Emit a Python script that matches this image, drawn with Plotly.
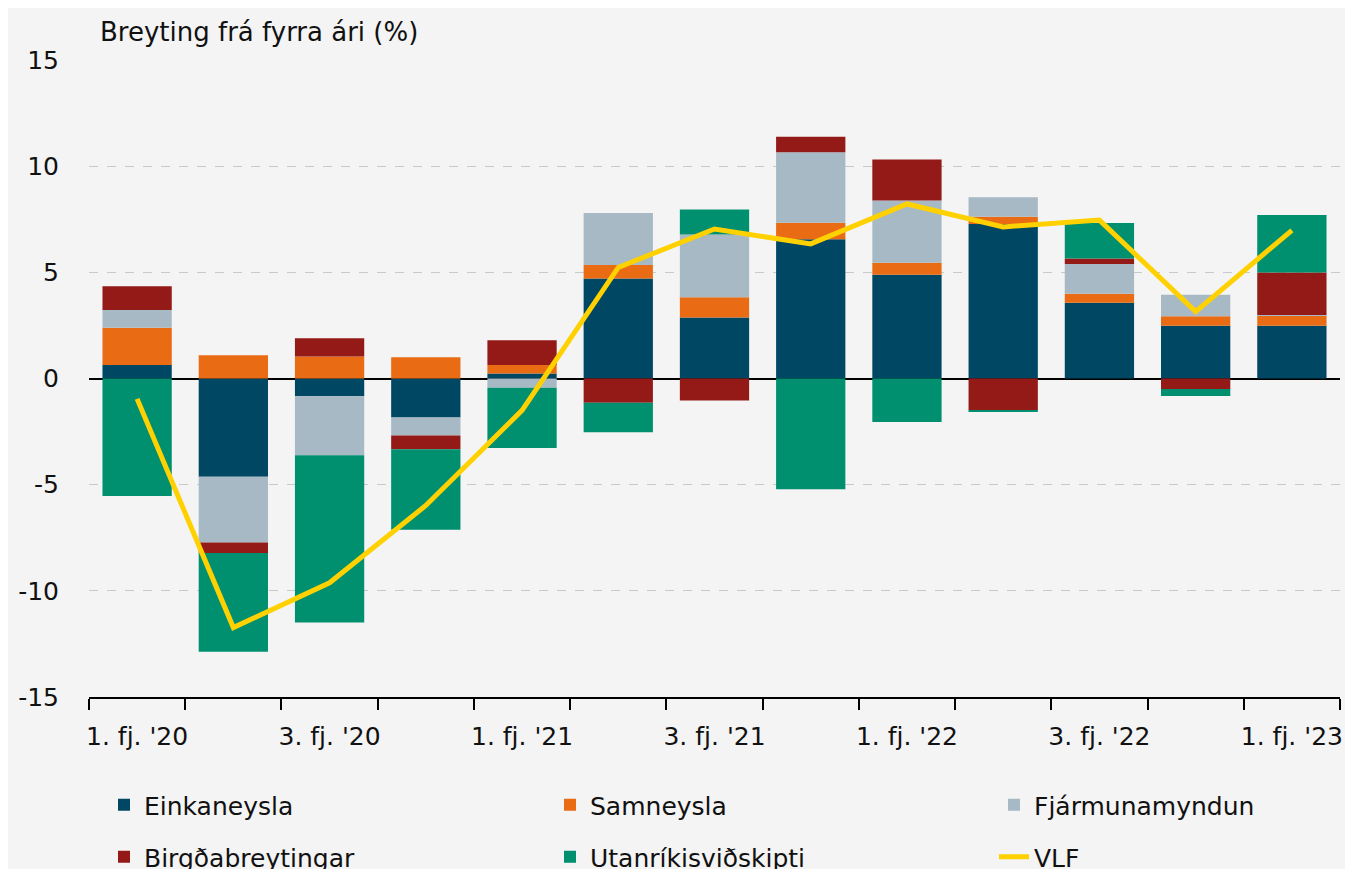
import plotly.graph_objects as go

categories = ["1. fj. '20", "2. fj. '20", "3. fj. '20", "4. fj. '20",
              "1. fj. '21", "2. fj. '21", "3. fj. '21", "4. fj. '21",
              "1. fj. '22", "2. fj. '22", "3. fj. '22", "4. fj. '22",
              "1. fj. '23"]
tick_labels = [c if i % 2 == 0 else "" for i, c in enumerate(categories)]
y_ticks = [-15, -10, -5, 0, 5, 10, 15]
y_tick_labels = ["-15", "-10", "-5", "0", "5", "10", "15"]

einkaneysla = [0.64, -4.63, -0.84, -1.84, 0.24, 4.71, 2.87, 6.56, 4.89, 7.28, 3.57, 2.49, 2.49]
samneysla = [1.75, 1.10, 1.04, 1.00, 0.40, 0.64, 0.96, 0.78, 0.56, 0.34, 0.42, 0.44, 0.48]
fjarmunamyndun = [0.84, -3.09, -2.77, -0.85, -0.44, 2.45, 2.95, 3.31, 2.93, 0.92, 1.40, 1.02, 0.02]
birgdabreytingar = [1.12, -0.50, 0.86, -0.64, 1.16, -1.14, -1.04, 0.74, 1.93, -1.50, 0.26, -0.50, 2.00]
utanrikisvidskipti = [-5.53, -4.65, -7.88, -3.79, -2.83, -1.39, 1.18, -5.21, -2.05, -0.06, 1.67, -0.32, 2.71]
vlf = [-0.96, -11.73, -9.62, -5.98, -1.50, 5.23, 7.04, 6.34, 8.22, 7.14, 7.46, 3.15, 6.98]

FONT = "DejaVu Sans"
FS = 25
BG = "#f4f4f4"
TXT = "#111111"

# The page body has an 8px margin: draw a figure 8px smaller and shift margins.
OFF = 8
W, H = 1353 - OFF, 869 - OFF
ML, MR, MT, MB = 89 - OFF, 13, 60 - OFF, 172
PW, PH = W - ML - MR, H - MT - MB

series = [
    ("Einkaneysla", einkaneysla, "#004763"),
    ("Samneysla", samneysla, "#e96b14"),
    ("Fjármunamyndun", fjarmunamyndun, "#a7b9c4"),
    ("Birgðabreytingar", birgdabreytingar, "#931a17"),
    ("Utanríkisviðskipti", utanrikisvidskipti, "#008f6f"),
]

# legend slots: (screen x of legend start, screen y of row centre)
legend_cols = [104, 550, 994]
legend_rows = [805, 857]
legend_names = ["legend", "legend2", "legend3", "legend4", "legend5", "legend6"]

fig = go.Figure()
for i, (name, vals, color) in enumerate(series):
    fig.add_trace(go.Bar(x=categories, y=vals, name=name, marker_color=color,
                         marker_line_width=0, legend=legend_names[i]))
fig.add_trace(go.Scatter(x=categories, y=vlf, name="VLF", mode="lines",
                         line=dict(color="#ffd100", width=5), legend=legend_names[5]))

legends = {}
for i, ln in enumerate(legend_names):
    sx = legend_cols[i % 3]
    sy = legend_rows[i // 3]
    legends[ln] = dict(
        orientation="h",
        x=(sx - OFF - ML) / PW,
        y=-(sy - OFF - (MT + PH)) / PH,
        xanchor="left", yanchor="middle",
        font=dict(family=FONT, size=FS, color=TXT),
        bgcolor="rgba(0,0,0,0)",
        visible=True,
    )

fig.update_layout(
    width=W, height=H,
    showlegend=True,
    barmode="relative", bargap=0.28,
    paper_bgcolor=BG, plot_bgcolor=BG,
    margin=dict(l=ML, r=MR, t=MT, b=MB, autoexpand=False),
    font=dict(family=FONT, size=FS, color=TXT),
    xaxis=dict(
        type="category", tickmode="array", tickvals=categories, ticktext=tick_labels,
        tickson="boundaries", ticks="outside", ticklen=11, tickwidth=2,
        tickcolor="black", showline=True, linecolor="black", linewidth=2,
        showgrid=False, ticklabelstandoff=16, tickangle=0,
        tickfont=dict(family=FONT, size=FS, color=TXT),
    ),
    yaxis=dict(
        range=[-15, 15], tickmode="array", tickvals=y_ticks, ticktext=y_tick_labels,
        showgrid=True, gridcolor="#c9c9c9",
        griddash="dash", gridwidth=1, zeroline=True, zerolinecolor="black",
        zerolinewidth=2, showline=False, ticks="", ticklabelstandoff=29,
        tickfont=dict(family=FONT, size=FS, color=TXT),
    ),
    annotations=[dict(text="Breyting frá fyrra ári (%)", xref="paper", yref="paper",
                      x=(98 - OFF - ML) / PW, y=1 + (60 - 32) / PH, xanchor="left",
                      yanchor="middle", showarrow=False,
                      font=dict(family=FONT, size=26, color=TXT))],
    **legends,
)

fig.write_html("out.html")
